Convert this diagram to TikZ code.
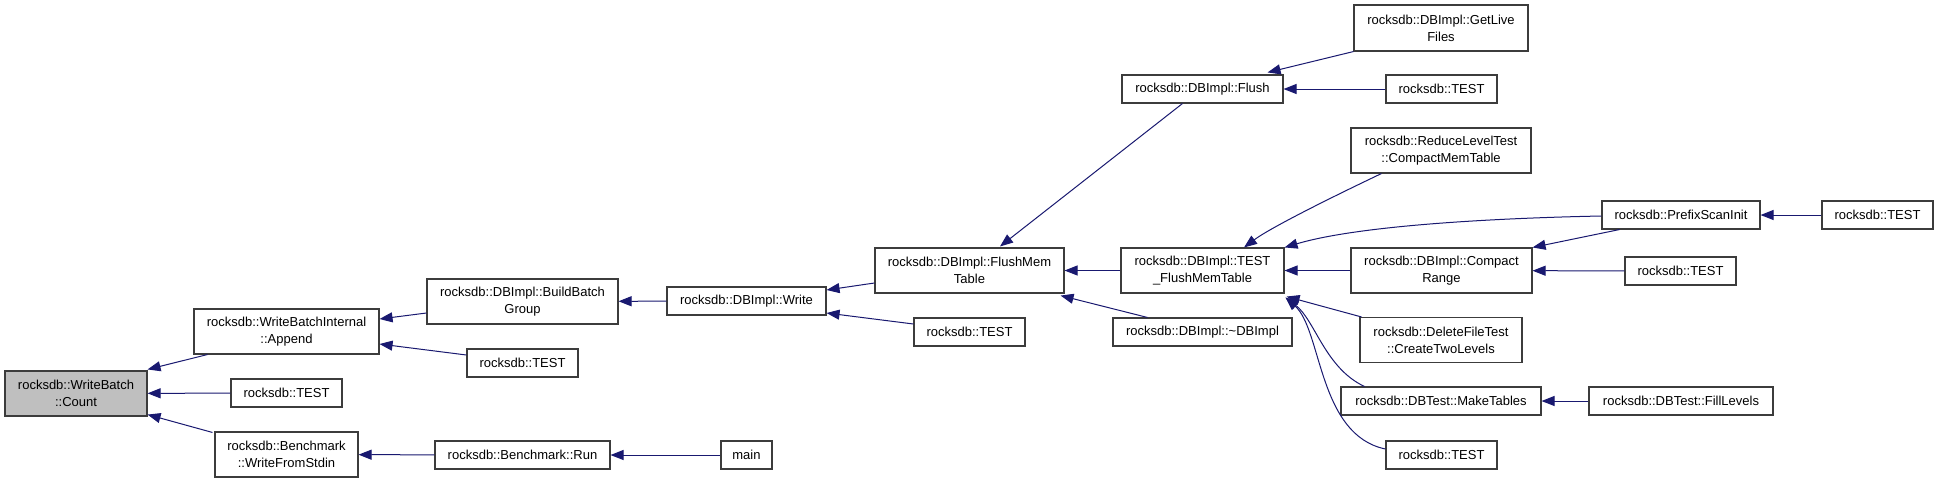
\documentclass[tikz,border=0pt]{standalone}
\usepackage{fontspec}
\setmainfont{Liberation Sans}
\usetikzlibrary{arrows.meta,calc}
\definecolor{edgeblue}{HTML}{191970}
\definecolor{boxline}{HTML}{3C3C3C}
\definecolor{rootfill}{HTML}{BFBFBF}
\begin{document}
\begin{tikzpicture}[x=1pt,y=-1pt,
  fn/.style={draw=boxline,line width=1.1pt,fill=white,inner sep=0pt,align=center,
    font=\fontsize{13}{17}\selectfont,text=black},
  one/.style={fn,minimum height=28pt},
  two/.style={fn,minimum height=45pt},
  edge/.style={draw=edgeblue,line width=1pt,-{Triangle[length=13pt,width=10pt,fill=edgeblue]}}]
\fill[white] (0,0) rectangle (1939,483);
\useasboundingbox (0,0) rectangle (1939,483);
% column 1
\node[two,minimum width=142pt,fill=rootfill] (count) at (76,393.5) {rocksdb::WriteBatch\\::Count};
% column 2
\node[two,minimum width=185pt] (append) at (286.5,331.5) {rocksdb::WriteBatchInternal\\::Append};
\node[one,minimum width=111pt] (test1) at (286.5,393) {rocksdb::TEST};
\node[two,minimum width=143pt] (wfs) at (286.5,454.5) {rocksdb::Benchmark\\::WriteFromStdin};
% column 3
\node[two,minimum width=191pt] (bbg) at (522.5,301.5) {rocksdb::DBImpl::BuildBatch\\Group};
\node[one,minimum width=111pt] (test2) at (522.5,363) {rocksdb::TEST};
\node[one,minimum width=175pt] (run) at (522.5,455) {rocksdb::Benchmark::Run};
% column 4
\node[one,minimum width=159pt] (write) at (746.5,301) {rocksdb::DBImpl::Write};
\node[one,minimum width=51pt] (main) at (746.5,455) {main};
% column 5
\node[two,minimum width=189pt] (fmt) at (969.5,270.5) {rocksdb::DBImpl::FlushMem\\Table};
\node[one,minimum width=111pt] (test3) at (969.5,332) {rocksdb::TEST};
% column 6
\node[one,minimum width=161pt] (flush) at (1202.5,89) {rocksdb::DBImpl::Flush};
\node[two,minimum width=163pt] (tfmt) at (1202.5,270.5) {rocksdb::DBImpl::TEST\\\_FlushMemTable};
\node[one,minimum width=179pt] (dtor) at (1202.5,332) {rocksdb::DBImpl::\textasciitilde DBImpl};
% column 7
\node[two,minimum width=174pt,minimum height=46pt] (glf) at (1441,28) {rocksdb::DBImpl::GetLive\\Files};
\node[one,minimum width=111pt] (test4) at (1441.5,89) {rocksdb::TEST};
\node[two,minimum width=180pt] (rlt) at (1441,150.5) {rocksdb::ReduceLevelTest\\::CompactMemTable};
\node[two,minimum width=181pt] (cr) at (1441.5,270.5) {rocksdb::DBImpl::Compact\\Range};
\node[two,minimum width=162pt] (dft) at (1441,340) {rocksdb::DeleteFileTest\\::CreateTwoLevels};
\node[one,minimum width=200pt] (mt) at (1441,401) {rocksdb::DBTest::MakeTables};
\node[one,minimum width=111pt] (test7) at (1441.5,455) {rocksdb::TEST};
% column 8
\node[one,minimum width=158pt] (psi) at (1681,215) {rocksdb::PrefixScanInit};
\node[one,minimum width=111pt] (test6) at (1680.5,271) {rocksdb::TEST};
\node[one,minimum width=184pt] (fl) at (1681,401) {rocksdb::DBTest::FillLevels};
% column 9
\node[one,minimum width=111pt] (test5) at (1877.5,215) {rocksdb::TEST};
% edges
\draw[edge] ($(append.south west)+(14,0)$) -- ($(count.north east)+(0,-1)$);
\draw[edge] (test1) -- (count);
\draw[edge] ($(wfs.north west)+(-2,1)$) -- ($(count.south east)+(0,-2)$);
\draw[edge] ($(bbg.west)+(0,11.5)$) -- ($(append.east)+(0,-12.5)$);
\draw[edge] ($(test2.west)+(0,-8)$) -- ($(append.east)+(0,12.5)$);
\draw[edge] (run) -- (wfs);
\draw[edge] (write) -- (bbg);
\draw[edge] (main) -- (run);
\draw[edge] ($(fmt.west)+(0,12.5)$) -- ($(write.east)+(0,-11)$);
\draw[edge] ($(test3.west)+(0,-8)$) -- ($(write.east)+(0,12)$);
\draw[edge] ($(flush.south west)+(61,0)$) -- ($(fmt.north)+(30.5,-1)$);
\draw[edge] (tfmt) -- (fmt);
\draw[edge] ($(dtor.north west)+(35,0)$) -- ($(fmt.south east)+(-4,2)$);
\draw[edge] (glf.south west) -- ($(flush.north east)+(-16,-2)$);
\draw[edge] (test4) -- (flush);
\draw[edge] ($(rlt.south west)+(31,0)$) .. controls (1330,198) and (1270,228) .. ($(tfmt.north)+(41.5,0)$);
\draw[edge] ($(psi.west)+(0,1)$) .. controls (1500,218) and (1360,225) .. (tfmt.north east);
\draw[edge] (cr) -- (tfmt);
\draw[edge] ($(dft.north west)+(2,0)$) -- ($(tfmt.south east)+(2,3)$);
\draw[edge] ($(mt.north west)+(24,0)$) .. controls (1325,368) and (1315,320) .. ($(tfmt.south east)+(1,4)$);
\draw[edge] ($(test7.west)+(0,-6)$) .. controls (1318,435) and (1322,330) .. ($(tfmt.south east)+(1,4)$);
\draw[edge] ($(psi.south west)+(18,0)$) -- (cr.north east);
\draw[edge] (test5) -- (psi);
\draw[edge] (test6) -- (cr);
\draw[edge] (fl) -- (mt);
\end{tikzpicture}
\end{document}
